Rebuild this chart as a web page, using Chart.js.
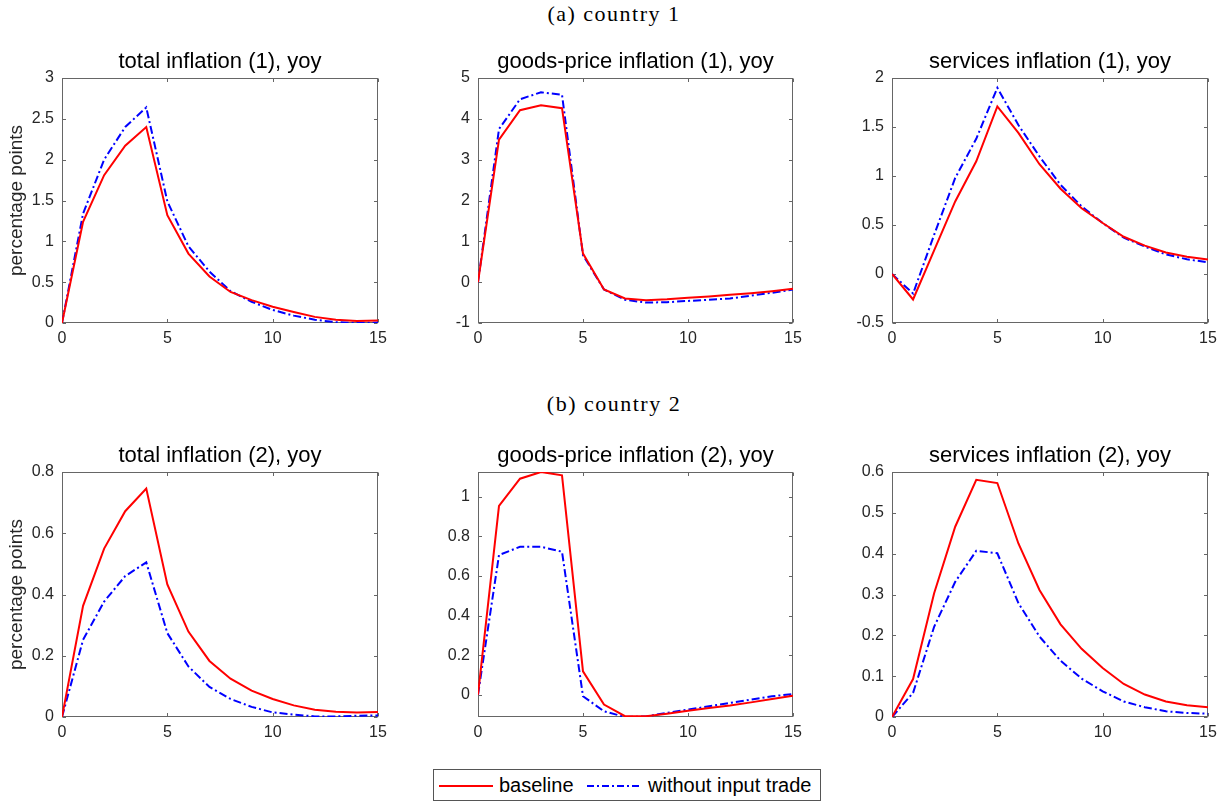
<!DOCTYPE html>
<html><head><meta charset="utf-8">
<script src="https://cdn.jsdelivr.net/npm/chart.js@4.4.1/dist/chart.umd.min.js"></script>
<style>
html,body{margin:0;padding:0;background:#fff;width:1228px;height:803px;overflow:hidden;position:relative;}
canvas{position:absolute;}
.sec{position:absolute;left:0;width:1228px;text-align:center;font-family:"Liberation Serif","Times New Roman",serif;font-size:22px;letter-spacing:1.5px;color:#000;line-height:24px;}
#legend{position:absolute;left:433px;top:769px;width:388px;height:32px;box-sizing:border-box;border:1px solid #555;background:#fff;font-family:"Liberation Sans",Arial,sans-serif;font-size:20px;color:#000;}
#legend span{position:absolute;top:0;line-height:30px;white-space:nowrap;}
#legend svg{position:absolute;left:0;top:0;}
</style>
</head><body>
<div class="sec" style="top:2px">(a) country 1</div>
<div class="sec" style="top:392px">(b) country 2</div>
<canvas id="c1"></canvas><canvas id="c2"></canvas><canvas id="c3"></canvas>
<canvas id="c4"></canvas><canvas id="c5"></canvas><canvas id="c6"></canvas>
<div id="legend">
  <svg width="386" height="30">
    <line x1="5" y1="16" x2="59" y2="16" stroke="#ff0000" stroke-width="2"/>
    <line x1="153" y1="16" x2="208" y2="16" stroke="#0000ff" stroke-width="2" stroke-dasharray="7 3 2 3"/>
  </svg>
  <span style="left:65px">baseline</span>
  <span style="left:214px">without input trade</span>
</div>
<script>
// ---- data ----
const periods = [0,1,2,3,4,5,6,7,8,9,10,11,12,13,14,15];
const seriesNames = ["baseline","without input trade"];

const total1Base     = [0,1.24,1.81,2.17,2.40,1.32,0.85,0.57,0.38,0.28,0.20,0.135,0.075,0.04,0.025,0.03];
const total1NoInput  = [0,1.34,2.00,2.40,2.64,1.49,0.94,0.63,0.39,0.26,0.16,0.09,0.04,0.01,0.0,0.005];
const goods1Base     = [0,3.49,4.21,4.33,4.26,0.70,-0.18,-0.40,-0.44,-0.42,-0.38,-0.35,-0.31,-0.27,-0.22,-0.16];
const goods1NoInput  = [0,3.75,4.48,4.65,4.59,0.66,-0.18,-0.43,-0.50,-0.49,-0.46,-0.43,-0.40,-0.33,-0.26,-0.18];
const services1Base    = [0,-0.26,0.24,0.74,1.15,1.71,1.44,1.12,0.87,0.67,0.52,0.38,0.29,0.22,0.175,0.148];
const services1NoInput = [0,-0.20,0.40,0.98,1.38,1.90,1.52,1.20,0.91,0.69,0.52,0.37,0.28,0.20,0.15,0.12];

const total2Base     = [0,0.363,0.55,0.672,0.746,0.433,0.279,0.183,0.125,0.086,0.059,0.038,0.024,0.017,0.015,0.016];
const total2NoInput  = [0,0.252,0.377,0.46,0.505,0.274,0.165,0.098,0.059,0.033,0.015,0.008,0.002,0.002,0.004,0.005];
const goods2Base     = [0,0.955,1.092,1.126,1.109,0.118,-0.05,-0.109,-0.109,-0.096,-0.081,-0.067,-0.055,-0.039,-0.022,-0.005];
const goods2NoInput  = [0,0.706,0.748,0.748,0.723,-0.008,-0.084,-0.113,-0.11,-0.092,-0.076,-0.059,-0.042,-0.025,-0.008,0.003];
const services2Base    = [0,0.093,0.303,0.466,0.581,0.573,0.425,0.311,0.227,0.167,0.120,0.081,0.055,0.038,0.029,0.024];
const services2NoInput = [0,0.059,0.221,0.331,0.407,0.401,0.279,0.197,0.138,0.094,0.063,0.038,0.024,0.014,0.010,0.008];

// ---- tick labels ----
const xTicks = [0,5,10,15];
const yTicksTotal1 = [0,0.5,1,1.5,2,2.5,3];
const yTicksGoods1 = [-1,0,1,2,3,4,5];
const yTicksServices1 = [-0.5,0,0.5,1,1.5,2];
const yTicksTotal2 = [0,0.2,0.4,0.6,0.8];
const yTicksGoods2 = [0,0.2,0.4,0.6,0.8,1];
const yTicksServices2 = [0,0.1,0.2,0.3,0.4,0.5,0.6];

const titles = ["total inflation (1), yoy","goods-price inflation (1), yoy","services inflation (1), yoy",
                "total inflation (2), yoy","goods-price inflation (2), yoy","services inflation (2), yoy"];
const yAxisLabel = "percentage points";

// ---- layout ----
const colLeft = [62,478,892], colRight = [378,793,1208];
const rowTop = [78,472], rowBottom = [323,717];
const Y_AXIS_W = 62, X_AXIS_H = 40, TOP_SPACE = 38, RIGHT_PAD = 18;

const panels = [
  {base: total1Base, alt: total1NoInput, yTicks: yTicksTotal1, yMin: 0, yMax: 3, col: 0, row: 0},
  {base: goods1Base, alt: goods1NoInput, yTicks: yTicksGoods1, yMin: -1, yMax: 5, col: 1, row: 0},
  {base: services1Base, alt: services1NoInput, yTicks: yTicksServices1, yMin: -0.5, yMax: 2, col: 2, row: 0},
  {base: total2Base, alt: total2NoInput, yTicks: yTicksTotal2, yMin: 0, yMax: 0.8, col: 0, row: 1},
  {base: goods2Base, alt: goods2NoInput, yTicks: yTicksGoods2, yMin: -0.113, yMax: 1.126, col: 1, row: 1},
  {base: services2Base, alt: services2NoInput, yTicks: yTicksServices2, yMin: 0, yMax: 0.6, col: 2, row: 1},
];

Chart.defaults.font.family = '"Liberation Sans", Arial, Helvetica, sans-serif';
Chart.defaults.color = '#262626';

const axesBox = {
  id: 'axesBox',
  beforeDatasetsDraw(chart) {
    const {ctx, chartArea: a} = chart;
    const L = Math.round(a.left) + 0.5, R = Math.round(a.right) - 0.5;
    const T = Math.round(a.top) + 0.5, B = Math.round(a.bottom) - 0.5;
    ctx.save();
    ctx.strokeStyle = '#666666';
    ctx.lineWidth = 1;
    ctx.strokeRect(L, T, R - L, B - T);
    const tl = 3.5;
    ctx.beginPath();
    chart.scales.x.ticks.forEach(t => {
      const px = Math.round(chart.scales.x.getPixelForValue(t.value)) + 0.5;
      ctx.moveTo(px, B); ctx.lineTo(px, B - tl);
      ctx.moveTo(px, T); ctx.lineTo(px, T + tl);
    });
    chart.scales.y.ticks.forEach(t => {
      const py = Math.round(chart.scales.y.getPixelForValue(t.value)) + 0.5;
      ctx.moveTo(L, py); ctx.lineTo(L + tl, py);
      ctx.moveTo(R, py); ctx.lineTo(R - tl, py);
    });
    ctx.stroke();
    ctx.restore();
  }
};

panels.forEach((p, i) => {
  const cv = document.getElementById('c' + (i + 1));
  const cl = colLeft[p.col], cr = colRight[p.col], ct = rowTop[p.row], cb = rowBottom[p.row];
  const w = (cr - cl) + Y_AXIS_W + RIGHT_PAD;
  const h = TOP_SPACE + (cb - ct) + X_AXIS_H;
  cv.width = w; cv.height = h;
  cv.style.left = (cl - Y_AXIS_W) + 'px';
  cv.style.top = (ct - TOP_SPACE) + 'px';
  cv.style.width = w + 'px'; cv.style.height = h + 'px';
  const mk = arr => periods.map((x, k) => ({x: x, y: arr[k]}));
  new Chart(cv, {
    type: 'line',
    data: {
      datasets: [
        {label: seriesNames[0], data: mk(p.base), borderColor: '#ff0000', borderWidth: 2, pointRadius: 0, tension: 0, fill: false},
        {label: seriesNames[1], data: mk(p.alt), borderColor: '#0000ff', borderWidth: 2, borderDash: [8,3,2,3], pointRadius: 0, tension: 0, fill: false},
      ]
    },
    options: {
      responsive: false, animation: false, devicePixelRatio: 1,
      layout: {padding: {top: 8.8, right: RIGHT_PAD, left: 0, bottom: 0}},
      plugins: {
        legend: {display: false},
        tooltip: {enabled: false},
        title: {display: true, text: titles[i], color: '#000', fullSize: false,
                font: {size: 22, weight: 'normal', lineHeight: 1.2}, padding: {top: 0, bottom: 2.8}},
      },
      scales: {
        x: {
          type: 'linear', min: 0, max: 15,
          grid: {display: false, drawTicks: false}, border: {display: false},
          afterBuildTicks: s => { s.ticks = xTicks.map(v => ({value: v})); },
          afterFit: s => { s.height = X_AXIS_H; },
          ticks: {padding: 6, font: {size: 16}, color: '#262626', maxRotation: 0, callback: v => String(v)},
        },
        y: {
          type: 'linear', min: p.yMin, max: p.yMax,
          grid: {display: false, drawTicks: false}, border: {display: false},
          afterBuildTicks: s => { s.ticks = p.yTicks.map(v => ({value: v})); },
          afterFit: s => { s.width = Y_AXIS_W; },
          ticks: {padding: 8, font: {size: 16}, color: '#262626', callback: v => String(v)},
          title: {display: p.col === 0, text: yAxisLabel, color: '#262626', font: {size: 19}, padding: {top: 5, bottom: 0}},
        }
      }
    },
    plugins: [axesBox]
  });
});
</script>
</body></html>
